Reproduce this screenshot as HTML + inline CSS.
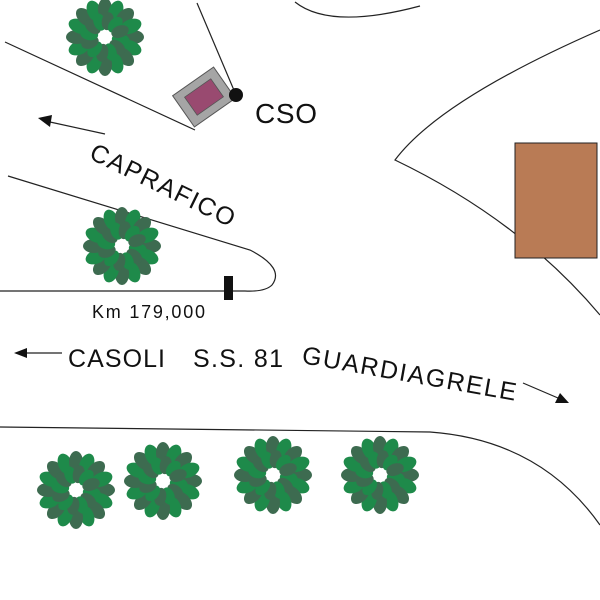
<!DOCTYPE html>
<html><head><style>body{margin:0;background:#fff}svg{display:block}</style></head><body>
<svg width="600" height="600" viewBox="0 0 600 600" xmlns="http://www.w3.org/2000/svg" font-family="Liberation Sans, Arial, sans-serif">
<defs>
<g id="tree">
<g fill="#3d6b50">
<ellipse rx="11" ry="7" transform="rotate(0) translate(28,0)"/>
<ellipse rx="11" ry="7" transform="rotate(22.5) translate(28,0)" fill="#1e8a4a"/>
<ellipse rx="11" ry="7" transform="rotate(45) translate(28,0)"/>
<ellipse rx="11" ry="7" transform="rotate(67.5) translate(28,0)" fill="#1e8a4a"/>
<ellipse rx="11" ry="7" transform="rotate(90) translate(28,0)"/>
<ellipse rx="11" ry="7" transform="rotate(112.5) translate(28,0)" fill="#1e8a4a"/>
<ellipse rx="11" ry="7" transform="rotate(135) translate(28,0)"/>
<ellipse rx="11" ry="7" transform="rotate(157.5) translate(28,0)" fill="#1e8a4a"/>
<ellipse rx="11" ry="7" transform="rotate(180) translate(28,0)"/>
<ellipse rx="11" ry="7" transform="rotate(202.5) translate(28,0)" fill="#1e8a4a"/>
<ellipse rx="11" ry="7" transform="rotate(225) translate(28,0)"/>
<ellipse rx="11" ry="7" transform="rotate(247.5) translate(28,0)" fill="#1e8a4a"/>
<ellipse rx="11" ry="7" transform="rotate(270) translate(28,0)"/>
<ellipse rx="11" ry="7" transform="rotate(292.5) translate(28,0)" fill="#1e8a4a"/>
<ellipse rx="11" ry="7" transform="rotate(315) translate(28,0)"/>
<ellipse rx="11" ry="7" transform="rotate(337.5) translate(28,0)" fill="#1e8a4a"/>
<ellipse rx="9" ry="6" transform="rotate(10) translate(16,0)" fill="#1e8a4a"/>
<ellipse rx="9" ry="6" transform="rotate(40) translate(16,0)"/>
<ellipse rx="9" ry="6" transform="rotate(70) translate(16,0)" fill="#1e8a4a"/>
<ellipse rx="9" ry="6" transform="rotate(100) translate(16,0)"/>
<ellipse rx="9" ry="6" transform="rotate(130) translate(16,0)" fill="#1e8a4a"/>
<ellipse rx="9" ry="6" transform="rotate(160) translate(16,0)"/>
<ellipse rx="9" ry="6" transform="rotate(190) translate(16,0)" fill="#1e8a4a"/>
<ellipse rx="9" ry="6" transform="rotate(220) translate(16,0)"/>
<ellipse rx="9" ry="6" transform="rotate(250) translate(16,0)" fill="#1e8a4a"/>
<ellipse rx="9" ry="6" transform="rotate(280) translate(16,0)"/>
<ellipse rx="9" ry="6" transform="rotate(310) translate(16,0)" fill="#1e8a4a"/>
<ellipse rx="9" ry="6" transform="rotate(340) translate(16,0)"/>
</g>
</g>
</defs>
<g fill="none" stroke="#222" stroke-width="1.2">
<path d="M295,2 Q330,30 420,6"/>
<line x1="5" y1="42" x2="195" y2="130"/>
<line x1="197" y1="3" x2="236" y2="95"/>
<path d="M8,176 L250,250 Q285,268 272,285 Q265,292 245,291 L0,291"/>
<path d="M600,30 Q440,100 395,160 Q520,220 600,315"/>
<path d="M0,427 L430,432 Q540,440 600,525"/>
<line x1="105" y1="134" x2="50" y2="122"/>
<line x1="25" y1="353" x2="62" y2="353"/>
<line x1="523" y1="383" x2="558" y2="398"/>
</g>
<polygon points="38,118 52,115 50,127" fill="#111"/>
<polygon points="14,353 27,348 27,358" fill="#111"/>
<polygon points="569,403 555,403 560,393" fill="#111"/>
<use href="#tree" x="105" y="37"/>
<use href="#tree" x="122" y="246"/>
<use href="#tree" x="76" y="490"/>
<use href="#tree" x="163" y="481"/>
<use href="#tree" x="273" y="475"/>
<use href="#tree" x="380" y="475"/>
<g transform="translate(204,97) rotate(-35)">
<rect x="-25" y="-19" width="50" height="38" fill="#a5a5a5" stroke="#555" stroke-width="1"/>
<rect x="-16" y="-11" width="32" height="22" fill="#994a70" stroke="#555" stroke-width="0.8"/>
</g>
<circle cx="236" cy="95" r="7" fill="#111"/>
<rect x="224" y="276" width="9" height="24" fill="#111"/>
<rect x="515" y="143" width="82" height="115" fill="#b97b55" stroke="#222" stroke-width="1"/>
<g fill="#111">
<text x="255" y="123" font-size="28" textLength="62">CSO</text>
<text x="88" y="158" font-size="25" transform="rotate(26 88 158)" textLength="158">CAPRAFICO</text>
<text x="92" y="318" font-size="18" textLength="113">Km 179,000</text>
<text x="68" y="367" font-size="25" textLength="97">CASOLI</text>
<text x="193" y="367" font-size="25" textLength="90">S.S. 81</text>
<text x="301" y="363" font-size="25" transform="rotate(10 301 363)" textLength="217">GUARDIAGRELE</text>
</g>
</svg>
</body></html>
